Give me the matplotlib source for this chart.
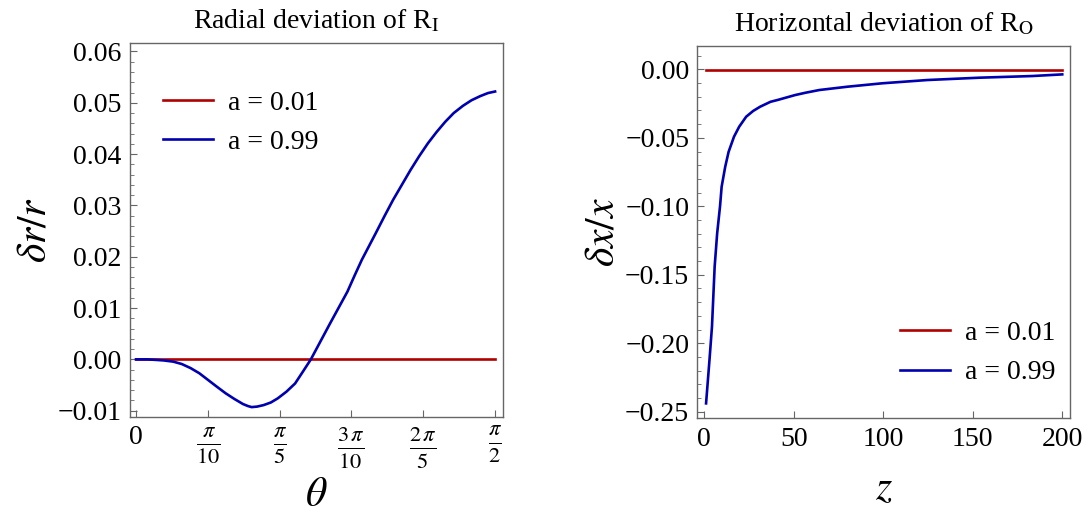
import numpy as np
import matplotlib
matplotlib.use("Agg")
import matplotlib.pyplot as plt
from matplotlib.ticker import MultipleLocator

# ---- data ----
# left panel: radial deviation vs theta (radians)
theta = [0.0, 0.05, 0.087, 0.12, 0.163, 0.20, 0.239, 0.277, 0.315, 0.353,
         0.392, 0.43, 0.468, 0.49, 0.506, 0.53, 0.559, 0.59, 0.620, 0.658,
         0.696, 0.73, 0.765, 0.807, 0.849, 0.887, 0.925, 0.956, 0.988, 1.049,
         1.087, 1.125, 1.163, 1.201, 1.239, 1.277, 1.315, 1.353, 1.39, 1.430,
         1.468, 1.506, 1.54, 1.571]
dr_a099 = [0.0, 0.0, -0.0001, -0.0002, -0.00044, -0.0009, -0.0017, -0.0027,
           -0.0040, -0.0053, -0.0066, -0.0077, -0.0087, -0.0091, -0.0093,
           -0.0092, -0.0089, -0.0084, -0.0076, -0.0063, -0.0047, -0.0024, 0.0,
           0.0035, 0.0070, 0.0101, 0.0132, 0.0163, 0.0194, 0.0246, 0.0279,
           0.0311, 0.0340, 0.0369, 0.0396, 0.0421, 0.0443, 0.0463, 0.0480,
           0.0494, 0.0505, 0.0513, 0.0519, 0.0522]
dr_a001 = [0.0] * len(theta)

# right panel: horizontal deviation vs z
z = [1.0, 2.9, 4.3, 5.8, 7.2, 8.8, 9.7, 11.7, 13.6, 16.6, 19.5, 23.4, 27.3,
     31.2, 37.0, 40.9, 50.7, 56.5, 64.3, 79.9, 99.4, 124.7, 153.9, 183.1, 200.0]
dx_a099 = [-0.2439, -0.2123, -0.1879, -0.1440, -0.1197, -0.1000, -0.0857,
           -0.0711, -0.0602, -0.0492, -0.0419, -0.0346, -0.0304, -0.0273,
           -0.0237, -0.0224, -0.0188, -0.0171, -0.0151, -0.0127, -0.0102,
           -0.0078, -0.0061, -0.0049, -0.0037]
dx_a001 = [-0.0005] * len(z)

labels = ["a = 0.01", "a = 0.99"]
pi_ticks = [0, np.pi / 10, np.pi / 5, 3 * np.pi / 10, 2 * np.pi / 5, np.pi / 2]
pi_labels = ["0", r"$\frac{\pi}{10}$", r"$\frac{\pi}{5}$", r"$\frac{3\,\pi}{10}$",
             r"$\frac{2\,\pi}{5}$", r"$\frac{\pi}{2}$"]

RED = "#b00000"
BLUE = "#0000b0"
FRAME = "#666666"

plt.rcParams["font.family"] = "serif"
plt.rcParams["font.serif"] = ["Liberation Serif", "DejaVu Serif"]
plt.rcParams["mathtext.fontset"] = "stix"

fig = plt.figure(figsize=(10.91, 5.17), dpi=100)
ax1 = fig.add_axes([0.1187, 0.194, 0.3421, 0.7219])
ax2 = fig.add_axes([0.6393, 0.1909, 0.3414, 0.7195])


def style(ax):
    for s in ax.spines.values():
        s.set_color(FRAME)
        s.set_linewidth(1.0)
    ax.tick_params(which="both", direction="in", top=False, right=False,
                   colors="black", labelsize=20, pad=6)
    ax.tick_params(which="major", length=5, width=0.8, color=FRAME)
    ax.tick_params(which="minor", length=3, width=0.6, color=FRAME)


# left
ax1.plot(theta, dr_a001, color=RED, lw=1.9, label=labels[0])
ax1.plot(theta, dr_a099, color=BLUE, lw=1.9, label=labels[1])
ax1.set_xlim(-0.0284, 1.6045)
ax1.set_ylim(-0.01117, 0.06156)
ax1.set_xticks(pi_ticks)
ax1.set_xticklabels(pi_labels)
ax1.set_yticks([-0.01, 0.0, 0.01, 0.02, 0.03, 0.04, 0.05, 0.06])
ax1.set_yticklabels(["\u22120.01", "0.00", "0.01", "0.02", "0.03", "0.04", "0.05", "0.06"])
ax1.yaxis.set_minor_locator(MultipleLocator(0.002))
style(ax1)
for lab in ax1.get_xticklabels()[1:]:
    lab.set_fontsize(23)
ax1.set_title(r"Radial deviation of R$_\mathrm{I}$", fontsize=20, pad=11)
ax1.set_xlabel(r"$\theta$", fontsize=30)
ax1.xaxis.set_label_coords(0.5, -0.16)
ax1.set_ylabel(r"$\delta r/r$", fontsize=30, labelpad=2)
ax1.legend(loc="center left", bbox_to_anchor=(0.09, 0.788), frameon=False,
           fontsize=20, handlelength=1.8, handletextpad=0.55, labelspacing=0.5,
           borderpad=0, borderaxespad=0)

# right
ax2.plot(z, dx_a001, color=RED, lw=1.9, label=labels[0])
ax2.plot(z, dx_a099, color=BLUE, lw=1.9, label=labels[1])
ax2.set_xlim(-3.8, 204.3)
ax2.set_ylim(-0.2548, 0.0168)
ax2.set_xticks([0, 50, 100, 150, 200])
ax2.set_yticks([-0.25, -0.20, -0.15, -0.10, -0.05, 0.0])
ax2.set_yticklabels(["\u22120.25", "\u22120.20", "\u22120.15", "\u22120.10", "\u22120.05", "0.00"])
ax2.yaxis.set_minor_locator(MultipleLocator(0.01))
style(ax2)
ax2.set_title(r"Horizontal deviation of R$_\mathrm{O}$", fontsize=20, pad=11)
ax2.set_xlabel(r"$z$", fontsize=30)
ax2.xaxis.set_label_coords(0.5, -0.138)
ax2.set_ylabel(r"$\delta x/x$", fontsize=30, labelpad=2)
ax2.legend(loc="center left", bbox_to_anchor=(0.543, 0.176), frameon=False,
           fontsize=20, handlelength=1.8, handletextpad=0.55, labelspacing=0.5,
           borderpad=0, borderaxespad=0)

fig.savefig("out.png", dpi=100)
